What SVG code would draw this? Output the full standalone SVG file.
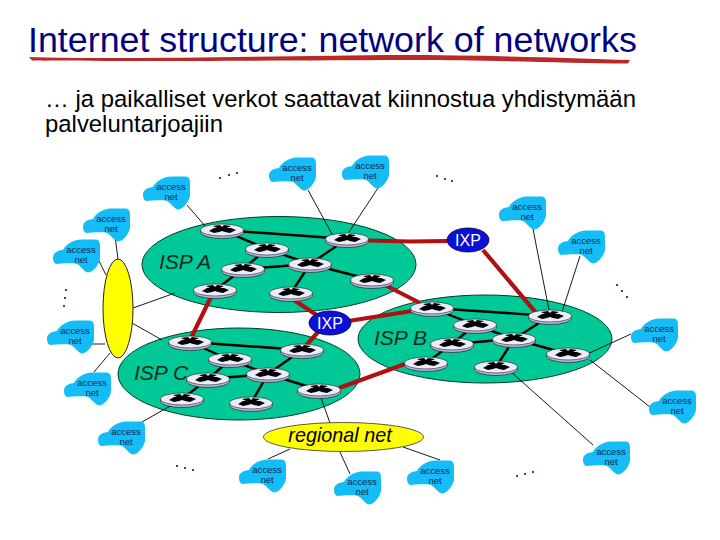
<svg xmlns="http://www.w3.org/2000/svg" xmlns:xlink="http://www.w3.org/1999/xlink" width="720" height="540" viewBox="0 0 720 540">
<style>
text{font-family:"Liberation Sans",Arial,sans-serif}
.title{font-size:35.800px;fill:#000080}
.sub{font-size:23.900px;fill:#000}
.isp{fill:#00c896;stroke:#003c28;stroke-width:1}
.ispl{font-size:21px;font-style:italic;fill:#0a2a20}
.cloud{fill:#14bcf8}
.acc{font-size:9.500px;fill:#0a2a50;text-anchor:middle}
.thin{stroke:#000;stroke-width:.9;fill:none}
.blk{stroke:#000;stroke-width:2.400;fill:none}
.red{stroke:#b01010;stroke-width:4.200;fill:none}
.ixp{fill:#0a10d8;stroke:#000040;stroke-width:.8}
.ixpl{font-size:16px;fill:#fff;text-anchor:middle}
.dot{fill:#000060}
</style>
<defs>
<path id="cl" class="cloud" d="M0,19C0,15 2,12 10,11C13,5 20,1 28,0.500L43,0.500C46,1 47,3 47,7L47,20C46,25 41,33 35,33.500C31,33 28,27 24,25C18,23.500 8,25 3,25C1,24 0,22 0,19Z"/>
<g id="rt">
<ellipse cx="0" cy="2" rx="21.500" ry="6.500" fill="#b8b8e0" stroke="#222" stroke-width=".7"/>
<ellipse cx="0" cy="0" rx="21.500" ry="6" fill="#ececf8" stroke="#222" stroke-width=".6"/>
<path d="M-13,1L-8,-2L-5,-2L-9,-4L-2,-5L0,-3L2,-5L9,-4L5,-2L9,-2L14,0L8,3L3,2L0,1L-3,2L-8,3Z" fill="#000"/>
</g>
</defs>
<g id="title">
<text class="title" x="28" y="52">Internet structure: network of networks</text>
<path d="M29,57C120,60 300,55.500 400,55C480,55 570,58 630,60L628,63.500C560,63 470,59.500 400,60C300,60.500 120,61.500 32,60.500Z" fill="#b82a2a"/>
</g>
<g id="subtitle">
<text class="sub" x="45" y="107" xml:space="preserve">… ja paikalliset verkot saattavat kiinnostua yhdistymään</text>
<text class="sub" x="45" y="132">palveluntarjoajiin</text>
</g>
<g id="isp-a"><ellipse class="isp" cx="279" cy="264.500" rx="137" ry="48"/><text class="ispl" x="159" y="269">ISP A</text></g>
<g id="isp-b"><ellipse class="isp" cx="485" cy="339" rx="127" ry="44"/><text class="ispl" x="374" y="345">ISP B</text></g>
<g id="isp-c"><ellipse class="isp" cx="239" cy="374" rx="121" ry="46"/><text class="ispl" x="134" y="380">ISP C</text></g>
<g id="connectors">
<g class="thin">
<path d="M187,205L205,226M115,236L118,259M97,257L106,275M308,190L333,236M378,188L349,232"/>
<path d="M133,308L175,293M132,323L162,340M78,344L105,344M94,372L110,353M142,422L172,405"/>
<path d="M320,395L330,423M268,459L290,449M340,452L350,474M403,447L440,460"/>
<path d="M533,229L549,310M580,256L562,312M631,334L585,355M650,407L590,360M593,445L510,371"/>
</g>
<g class="blk">
<path d="M222,230L347,239M222,230L267,249M267,249L310,264M267,249L243,269M243,269L215,290M243,269L310,264M310,264L347,239M310,264L291,293M310,264L372,280"/>
<path d="M432,308L550,316M432,308L475,325M475,325L514,339M475,325L452,344M452,344L426,363M452,344L514,339M514,339L550,316M514,339L496,367M514,339L568,354"/>
<path d="M190,342L302,350M190,342L230,360M230,360L268,374M230,360L208,379M208,379L182,399M208,379L268,374M268,374L302,350M268,374L251,403M268,374L319,390"/>
</g>
<g class="red">
<path d="M211,297L190,340M291,298L318,316M318,332L302,350M347,240L410,241.500L447,241M483,250L537,314M385,285L420,303M342,322L412,311M339,388L405,364"/>
</g>
</g>
<g id="regional"><ellipse cx="343.500" cy="437" rx="80" ry="14.500" fill="#ffff00" stroke="#333" stroke-width=".8"/><text x="340" y="442" font-size="19.800" font-style="italic" text-anchor="middle" fill="#000">regional net</text></g>
<g id="yellow-hub"><ellipse cx="118" cy="308.500" rx="15" ry="49.500" fill="#ffff00" stroke="#222" stroke-width="1"/></g>
<g id="ixp-1"><ellipse class="ixp" cx="468" cy="240" rx="21" ry="12"/><text class="ixpl" x="468" y="246">IXP</text></g>
<g id="ixp-2"><ellipse class="ixp" cx="330" cy="323" rx="21" ry="12"/><text class="ixpl" x="330" y="329">IXP</text></g>
<g id="routers">
<use href="#rt" x="222" y="230"/><use href="#rt" x="267" y="249"/><use href="#rt" x="243" y="269"/><use href="#rt" x="215" y="290"/><use href="#rt" x="310" y="264"/><use href="#rt" x="291" y="293"/><use href="#rt" x="347" y="239"/><use href="#rt" x="372" y="280"/>
<use href="#rt" x="432" y="308"/><use href="#rt" x="550" y="316"/><use href="#rt" x="475" y="325"/><use href="#rt" x="514" y="339"/><use href="#rt" x="452" y="344"/><use href="#rt" x="426" y="363"/><use href="#rt" x="568" y="354"/><use href="#rt" x="496" y="367"/>
<use href="#rt" x="190" y="342"/><use href="#rt" x="230" y="359"/><use href="#rt" x="208" y="379"/><use href="#rt" x="268" y="374"/><use href="#rt" x="182" y="399"/><use href="#rt" x="251" y="403"/><use href="#rt" x="319" y="390"/><use href="#rt" x="302" y="350"/>
</g>
<g id="access-1" transform="translate(143,176)"><use href="#cl"/><text class="acc" x="28" y="14">access</text><text class="acc" x="28" y="24">net</text></g>
<g id="access-2" transform="translate(83,208)"><use href="#cl"/><text class="acc" x="28" y="14">access</text><text class="acc" x="28" y="24">net</text></g>
<g id="access-3" transform="translate(53,239)"><use href="#cl"/><text class="acc" x="28" y="14">access</text><text class="acc" x="28" y="24">net</text></g>
<g id="access-4" transform="translate(269,157)"><use href="#cl"/><text class="acc" x="28" y="14">access</text><text class="acc" x="28" y="24">net</text></g>
<g id="access-5" transform="translate(342,155)"><use href="#cl"/><text class="acc" x="28" y="14">access</text><text class="acc" x="28" y="24">net</text></g>
<g id="access-6" transform="translate(499,196)"><use href="#cl"/><text class="acc" x="28" y="14">access</text><text class="acc" x="28" y="24">net</text></g>
<g id="access-7" transform="translate(558,230)"><use href="#cl"/><text class="acc" x="28" y="14">access</text><text class="acc" x="28" y="24">net</text></g>
<g id="access-8" transform="translate(631,318)"><use href="#cl"/><text class="acc" x="28" y="14">access</text><text class="acc" x="28" y="24">net</text></g>
<g id="access-9" transform="translate(649,390)"><use href="#cl"/><text class="acc" x="28" y="14">access</text><text class="acc" x="28" y="24">net</text></g>
<g id="access-10" transform="translate(583,441)"><use href="#cl"/><text class="acc" x="28" y="14">access</text><text class="acc" x="28" y="24">net</text></g>
<g id="access-11" transform="translate(407,460)"><use href="#cl"/><text class="acc" x="28" y="14">access</text><text class="acc" x="28" y="24">net</text></g>
<g id="access-12" transform="translate(334,471)"><use href="#cl"/><text class="acc" x="28" y="14">access</text><text class="acc" x="28" y="24">net</text></g>
<g id="access-13" transform="translate(239,459)"><use href="#cl"/><text class="acc" x="28" y="14">access</text><text class="acc" x="28" y="24">net</text></g>
<g id="access-14" transform="translate(98,421)"><use href="#cl"/><text class="acc" x="28" y="14">access</text><text class="acc" x="28" y="24">net</text></g>
<g id="access-15" transform="translate(64,372)"><use href="#cl"/><text class="acc" x="28" y="14">access</text><text class="acc" x="28" y="24">net</text></g>
<g id="access-16" transform="translate(47,320)"><use href="#cl"/><text class="acc" x="28" y="14">access</text><text class="acc" x="28" y="24">net</text></g>
<g id="ellipsis-dots" class="dot">
<circle cx="220" cy="178" r="1"/><circle cx="229" cy="175" r="1"/><circle cx="237" cy="173" r="1"/>
<circle cx="437" cy="176" r="1"/><circle cx="445" cy="179" r="1"/><circle cx="452" cy="181" r="1"/>
<circle cx="66" cy="290" r="1"/><circle cx="65" cy="298" r="1"/><circle cx="64" cy="306" r="1"/>
<circle cx="617" cy="285" r="1"/><circle cx="622" cy="291" r="1"/><circle cx="627" cy="297" r="1"/>
<circle cx="177" cy="466" r="1"/><circle cx="185" cy="468" r="1"/><circle cx="193" cy="470" r="1"/>
<circle cx="517" cy="476" r="1"/><circle cx="525" cy="474" r="1"/><circle cx="533" cy="472" r="1"/>
</g>
</svg>
